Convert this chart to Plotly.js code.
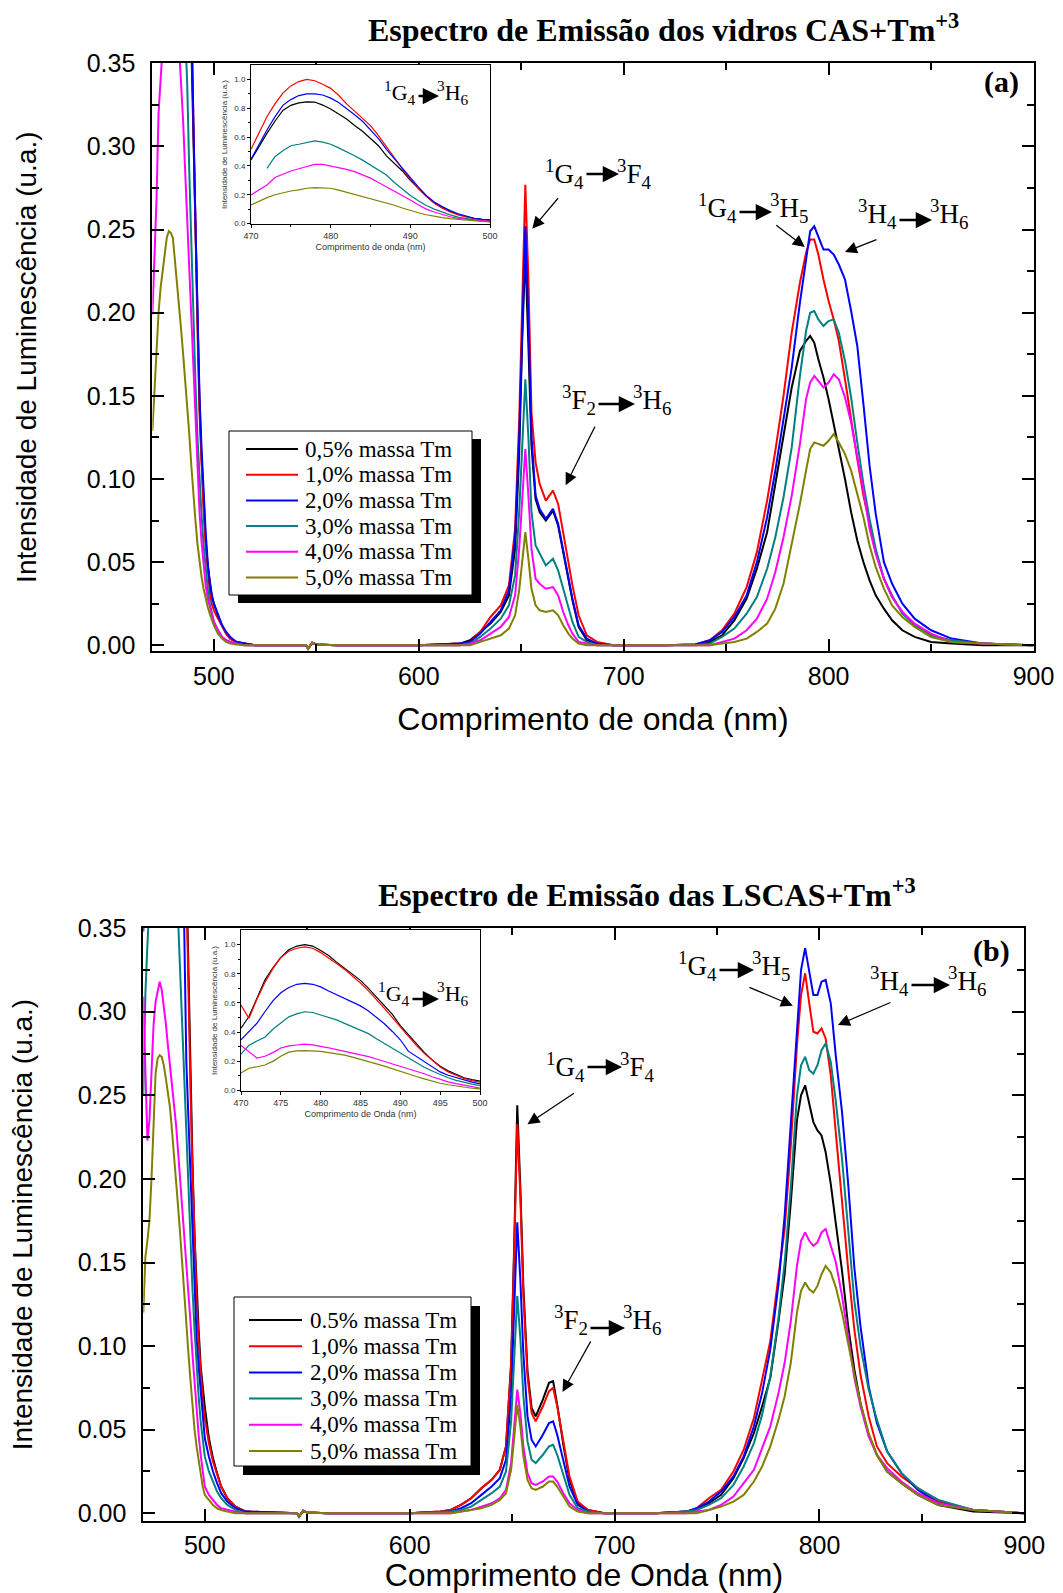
<!DOCTYPE html>
<html>
<head>
<meta charset="utf-8">
<script src="https://cdn.plot.ly/plotly-3.0.1.min.js"></script>
<style>
  html, body { margin: 0; padding: 0; background: #ffffff; }
  #chart { width: 1063px; height: 1593px; }
</style>
</head>
<body>
<div id="chart"></div>
<script>
// ---------- wavelength grids (nm) ----------
const insetWave = [470,471,472,473,474,475,476,477,478,479,480,481,482,483,484,485,486,487,488,489,490,491,492,493,494,495,496,497,498,499,500];

const tailWaveA = [502,504,506,508,511,515,520,
  540,545,546,548,550,560,600,615,
  620,625,630,635,640,644,647,649,650.5,652,653.5,655,657,659,662,665.5,668,670.5,673,675,678,682,687,695,
  720,735,
  742,748,754,760,765,770,774,778,782,786,789,791,793,795,797.5,800,802.5,805,808,811,814,817,820,823,827,831,836,842,850,860,875,900];

const tailWaveB = [502,504,506,508,511,515,520,
  540,545,546,548,550,560,600,615,
  620,625,630,635,640,644,647,649.5,651,652.5,654,655.5,657.5,659.5,661.5,665,668,670,672,675,678,682,687,695,
  720,735,
  740,746,752,758,763,768,772,776,780,783,786,789,791,793,795,797,799,801,803,805.5,808,811,814,817,820,824,828,833,840,848,858,875,900];

// ---------- series names and colours ----------
const namesA = ['0,5% massa Tm','1,0% massa Tm','2,0% massa Tm','3,0% massa Tm','4,0% massa Tm','5,0% massa Tm'];
const namesB = ['0.5% massa Tm','1,0% massa Tm','2,0% massa Tm','3,0% massa Tm','4,0% massa Tm','5,0% massa Tm'];
const colors = ['#000000','#ff0000','#0000ff','#008080','#ff00ff','#808000'];

// ---------- tick values ----------
const mainXTicks = [500,600,700,800,900];
const mainXMinor = [550,650,750,850];
const mainYTicks = [0,0.05,0.10,0.15,0.20,0.25,0.30,0.35];
const mainYLabels = ['0.00','0.05','0.10','0.15','0.20','0.25','0.30','0.35'];
const mainYMinor = [0.025,0.075,0.125,0.175,0.225,0.275,0.325];
const insetXTicksA = [470,480,490,500];
const insetXMinorA = [475,485,495];
const insetXTicksB = [470,475,480,485,490,495,500];
const insetYTicks = [0,0.2,0.4,0.6,0.8,1.0];
const insetYLabels = ['0.0','0.2','0.4','0.6','0.8','1.0'];
const insetYMinor = [0.1,0.3,0.5,0.7,0.9];

// ---------- (a) CAS glasses: 470-500 nm (shown in the inset) ----------
const casBlue05 = [0.441,0.535,0.626,0.71,0.785,0.82,0.837,0.844,0.843,0.822,0.795,0.76,0.725,0.68,0.64,0.59,0.54,0.47,0.415,0.365,0.3,0.245,0.19,0.145,0.112,0.085,0.063,0.048,0.037,0.03,0.025];
const casBlue10 = [0.515,0.63,0.741,0.83,0.905,0.955,0.985,1.0,0.991,0.967,0.938,0.89,0.83,0.78,0.73,0.68,0.61,0.533,0.455,0.38,0.31,0.245,0.19,0.14,0.107,0.08,0.06,0.044,0.032,0.025,0.021];
const casBlue20 = [0.446,0.55,0.649,0.74,0.82,0.86,0.888,0.9,0.9,0.892,0.87,0.84,0.8,0.755,0.71,0.65,0.59,0.515,0.45,0.38,0.315,0.255,0.195,0.15,0.118,0.09,0.068,0.05,0.037,0.03,0.025];
const casBlue30 = [null,null,0.383,0.464,0.505,0.54,0.55,0.561,0.573,0.565,0.55,0.525,0.5,0.47,0.44,0.405,0.37,0.337,0.285,0.238,0.195,0.158,0.125,0.1,0.078,0.06,0.045,0.034,0.025,0.019,0.014];
const casBlue40 = [0.199,0.235,0.268,0.32,0.345,0.365,0.38,0.395,0.411,0.41,0.4,0.39,0.376,0.36,0.34,0.315,0.285,0.256,0.225,0.195,0.164,0.13,0.1,0.08,0.062,0.047,0.036,0.028,0.023,0.018,0.014];
const casBlue50 = [0.129,0.155,0.18,0.2,0.215,0.226,0.234,0.245,0.249,0.248,0.245,0.232,0.217,0.204,0.19,0.175,0.16,0.143,0.127,0.108,0.09,0.075,0.061,0.05,0.041,0.034,0.028,0.023,0.019,0.015,0.012];

// ---------- (a) CAS glasses: 502-900 nm ----------
const casRest05 = [0.018,0.012,0.007,0.004,0.002,0.001,0,
  0,0,-0.002,0.0015,0.0005,0,0,0.0005,
  0.001,0.003,0.008,0.013,0.02,0.03,0.058,0.115,0.185,0.237,0.18,0.12,0.088,0.08,0.075,0.081,0.072,0.056,0.039,0.027,0.011,0.003,0.001,0,
  0,0.0005,
  0.002,0.006,0.015,0.028,0.046,0.068,0.097,0.125,0.155,0.177,0.183,0.186,0.182,0.172,0.161,0.148,0.134,0.118,0.1,0.08,0.063,0.05,0.039,0.03,0.022,0.015,0.009,0.005,0.002,0.001,0,0];
const casRest10 = [0.016,0.011,0.007,0.004,0.002,0.001,0,
  0,0,-0.002,0.0015,0.0005,0,0,0.0005,
  0.001,0.002,0.008,0.017,0.024,0.036,0.07,0.135,0.21,0.277,0.22,0.14,0.11,0.097,0.087,0.093,0.085,0.067,0.05,0.036,0.018,0.006,0.002,0,
  0,0.0005,
  0.003,0.009,0.019,0.035,0.056,0.087,0.117,0.15,0.188,0.218,0.236,0.244,0.244,0.235,0.22,0.207,0.196,0.183,0.16,0.135,0.112,0.09,0.072,0.056,0.04,0.029,0.02,0.012,0.006,0.002,0.001,0];
const casRest20 = [0.018,0.012,0.008,0.005,0.002,0.001,0,
  0,0,-0.002,0.0015,0.0005,0,0,0.0005,
  0.001,0.002,0.007,0.014,0.021,0.033,0.065,0.125,0.195,0.252,0.195,0.125,0.09,0.082,0.076,0.082,0.073,0.057,0.04,0.028,0.012,0.004,0.001,0,
  0,0.0005,
  0.003,0.008,0.017,0.03,0.05,0.077,0.105,0.135,0.167,0.206,0.233,0.249,0.252,0.246,0.238,0.238,0.235,0.229,0.22,0.201,0.18,0.145,0.108,0.079,0.05,0.037,0.025,0.016,0.009,0.004,0.001,0];
const casRest30 = [0.009,0.005,0.003,0.002,0.001,0,0,
  0,0,-0.002,0.0015,0.0005,0,0,0,
  0,0.001,0.005,0.01,0.016,0.024,0.042,0.08,0.125,0.16,0.125,0.08,0.06,0.055,0.048,0.052,0.045,0.034,0.022,0.014,0.005,0.002,0,0,
  0,0,
  0.001,0.005,0.01,0.019,0.029,0.046,0.065,0.089,0.119,0.162,0.189,0.2,0.201,0.196,0.192,0.195,0.196,0.188,0.171,0.149,0.122,0.097,0.076,0.058,0.04,0.03,0.019,0.012,0.006,0.003,0.001,0];
const casRest40 = [0.009,0.005,0.003,0.002,0.001,0,0,
  0,0,-0.002,0.0015,0.0005,0,0,0,
  0,0.001,0.003,0.007,0.011,0.017,0.03,0.058,0.09,0.118,0.09,0.058,0.04,0.037,0.034,0.035,0.03,0.02,0.012,0.007,0.002,0.001,0,0,
  0,0,
  0,0.002,0.004,0.009,0.016,0.028,0.044,0.065,0.09,0.121,0.148,0.158,0.162,0.159,0.155,0.158,0.163,0.16,0.149,0.134,0.114,0.093,0.07,0.055,0.04,0.029,0.02,0.013,0.007,0.002,0.001,0];
const casRest50 = [0.007,0.004,0.002,0.001,0.0005,0,0,
  0,0,-0.002,0.0015,0.0005,0,0,0,
  0,0,0.002,0.004,0.006,0.01,0.018,0.033,0.052,0.068,0.052,0.034,0.024,0.021,0.02,0.021,0.018,0.012,0.007,0.004,0.001,0,0,0,
  0,0,
  0,0.001,0.002,0.004,0.008,0.013,0.022,0.037,0.06,0.085,0.105,0.118,0.122,0.121,0.12,0.123,0.127,0.122,0.115,0.105,0.091,0.077,0.06,0.047,0.034,0.024,0.017,0.011,0.005,0.002,0.001,0];

// ---------- (b) LSCAS glasses: 470-500 nm (shown in the inset) ----------
const lsBlue05 = [0.427,0.507,0.632,0.757,0.84,0.912,0.965,0.99,1.0,0.99,0.96,0.925,0.88,0.84,0.8,0.755,0.7,0.643,0.585,0.522,0.445,0.385,0.32,0.262,0.21,0.166,0.135,0.11,0.088,0.075,0.064];
const lsBlue10 = [0.586,0.495,0.625,0.74,0.835,0.912,0.955,0.975,0.984,0.975,0.945,0.91,0.87,0.83,0.785,0.737,0.683,0.625,0.563,0.5,0.435,0.372,0.31,0.255,0.205,0.161,0.128,0.103,0.083,0.068,0.057];
const lsBlue20 = [0.348,0.405,0.461,0.54,0.615,0.67,0.706,0.728,0.734,0.728,0.71,0.682,0.657,0.635,0.61,0.58,0.545,0.5,0.458,0.405,0.348,0.27,0.235,0.2,0.165,0.128,0.105,0.088,0.072,0.058,0.045];
const lsBlue30 = [0.25,0.31,0.34,0.365,0.42,0.46,0.505,0.525,0.54,0.535,0.518,0.5,0.484,0.46,0.435,0.41,0.39,0.355,0.323,0.29,0.257,0.222,0.189,0.16,0.134,0.11,0.088,0.07,0.055,0.044,0.034];
const lsBlue40 = [0.309,0.265,0.223,0.235,0.26,0.292,0.306,0.312,0.318,0.313,0.304,0.293,0.28,0.268,0.257,0.246,0.232,0.216,0.2,0.182,0.166,0.15,0.132,0.115,0.095,0.077,0.06,0.047,0.035,0.025,0.016];
const lsBlue50 = [0.12,0.153,0.163,0.175,0.2,0.235,0.263,0.272,0.274,0.273,0.268,0.26,0.252,0.243,0.229,0.215,0.2,0.183,0.167,0.148,0.13,0.113,0.096,0.08,0.063,0.05,0.04,0.031,0.023,0.016,0.011];

// ---------- (b) LSCAS glasses: 502-900 nm ----------
const lsRest05 = [0.045,0.033,0.024,0.016,0.009,0.004,0.001,
  0,0,-0.002,0.0015,0.0005,0,0,0.001,
  0.002,0.005,0.009,0.015,0.02,0.026,0.04,0.09,0.16,0.244,0.195,0.135,0.085,0.063,0.058,0.068,0.078,0.079,0.065,0.041,0.02,0.006,0.002,0,
  0,0.001,
  0.002,0.006,0.011,0.021,0.033,0.048,0.064,0.081,0.115,0.143,0.186,0.235,0.25,0.256,0.245,0.234,0.229,0.226,0.216,0.197,0.173,0.145,0.112,0.086,0.066,0.047,0.035,0.025,0.018,0.011,0.005,0.001,0];
const lsRest10 = [0.042,0.031,0.023,0.016,0.009,0.004,0.001,
  0,0,-0.002,0.0015,0.0005,0,0,0.001,
  0.002,0.005,0.009,0.015,0.02,0.026,0.04,0.088,0.155,0.233,0.19,0.13,0.082,0.06,0.055,0.064,0.073,0.075,0.064,0.042,0.022,0.007,0.002,0,
  0,0.001,
  0.003,0.009,0.014,0.025,0.038,0.057,0.079,0.103,0.142,0.17,0.22,0.28,0.31,0.323,0.305,0.288,0.287,0.29,0.284,0.262,0.227,0.185,0.146,0.11,0.083,0.058,0.04,0.03,0.022,0.015,0.007,0.002,0];
const lsRest20 = [0.034,0.025,0.018,0.012,0.007,0.003,0.001,
  0,0,-0.002,0.0015,0.0005,0,0,0.001,
  0.001,0.003,0.006,0.011,0.016,0.021,0.032,0.07,0.12,0.174,0.14,0.095,0.058,0.044,0.04,0.047,0.054,0.055,0.047,0.031,0.016,0.005,0.001,0,
  0,0.001,
  0.003,0.007,0.013,0.022,0.034,0.052,0.072,0.098,0.137,0.178,0.231,0.288,0.325,0.338,0.325,0.31,0.31,0.318,0.319,0.305,0.273,0.24,0.197,0.147,0.112,0.076,0.054,0.037,0.024,0.014,0.006,0.002,0];
const lsRest30 = [0.025,0.019,0.013,0.009,0.005,0.002,0,
  0,0,-0.002,0.0015,0.0005,0,0,0.001,
  0.001,0.002,0.004,0.008,0.012,0.016,0.025,0.055,0.092,0.13,0.105,0.07,0.043,0.032,0.03,0.035,0.04,0.041,0.035,0.023,0.011,0.003,0.001,0,
  0,0.001,
  0.002,0.005,0.009,0.017,0.028,0.042,0.059,0.082,0.117,0.15,0.195,0.25,0.268,0.273,0.265,0.263,0.268,0.277,0.281,0.27,0.246,0.212,0.168,0.127,0.1,0.074,0.056,0.037,0.024,0.015,0.008,0.002,0];
const lsRest40 = [0.011,0.008,0.005,0.003,0.002,0.001,0,
  0,0,-0.002,0.0015,0.0005,0,0,0,
  0,0.001,0.002,0.004,0.006,0.009,0.014,0.03,0.052,0.074,0.06,0.04,0.024,0.018,0.017,0.019,0.022,0.022,0.019,0.012,0.006,0.002,0,0,
  0,0,
  0.001,0.002,0.005,0.01,0.018,0.026,0.039,0.052,0.072,0.09,0.115,0.148,0.163,0.168,0.163,0.16,0.162,0.168,0.17,0.16,0.15,0.13,0.104,0.081,0.064,0.046,0.035,0.027,0.019,0.012,0.006,0.002,0];
const lsRest50 = [0.008,0.005,0.003,0.002,0.001,0,0,
  0,0,-0.002,0.0015,0.0005,0,0,0,
  0,0.001,0.002,0.003,0.005,0.008,0.012,0.026,0.045,0.065,0.052,0.034,0.02,0.015,0.014,0.016,0.019,0.019,0.016,0.01,0.004,0.001,0,0,
  0,0,
  0,0.002,0.004,0.007,0.011,0.019,0.028,0.04,0.056,0.07,0.09,0.12,0.133,0.138,0.134,0.132,0.136,0.143,0.148,0.144,0.135,0.12,0.101,0.083,0.066,0.048,0.035,0.025,0.018,0.011,0.005,0.002,0];

const casBlue = [casBlue05, casBlue10, casBlue20, casBlue30, casBlue40, casBlue50];
const casRest = [casRest05, casRest10, casRest20, casRest30, casRest40, casRest50];
const lsBlue  = [lsBlue05, lsBlue10, lsBlue20, lsBlue30, lsBlue40, lsBlue50];
const lsRest  = [lsRest05, lsRest10, lsRest20, lsRest30, lsRest40, lsRest50];

// ---------- page geometry helpers (pixels -> paper) ----------
const W = 1063, H = 1593;
const px = x => x / W;
const py = y => 1 - y / H;

const SERIF = '"Liberation Serif", "Times New Roman", serif';
const SANS = '"Liberation Sans", Arial, sans-serif';
const yTitle = 'Intensidade de Luminescência (u.a.)';

// ---------- traces ----------
const traces = [];
for (let i = 0; i < 6; i++) {
  traces.push({
    type: 'scatter', mode: 'lines', name: namesA[i], showlegend: false,
    x: insetWave.concat(tailWaveA), y: casBlue[i].concat(casRest[i]),
    xaxis: 'x', yaxis: 'y', line: {color: colors[i], width: 2}
  });
}
for (let i = 0; i < 6; i++) {
  traces.push({
    type: 'scatter', mode: 'lines', name: namesB[i], showlegend: false,
    x: insetWave.concat(tailWaveB), y: lsBlue[i].concat(lsRest[i]),
    xaxis: 'x2', yaxis: 'y2', line: {color: colors[i], width: 2}
  });
}
for (let i = 0; i < 6; i++) {
  traces.push({
    type: 'scatter', mode: 'lines', name: namesA[i], showlegend: false,
    x: insetWave, y: casBlue[i], xaxis: 'x3', yaxis: 'y3',
    line: {color: colors[i], width: 1.2}
  });
}
for (let i = 0; i < 6; i++) {
  traces.push({
    type: 'scatter', mode: 'lines', name: namesB[i], showlegend: false,
    x: insetWave, y: lsBlue[i], xaxis: 'x4', yaxis: 'y4',
    line: {color: colors[i], width: 1.2}
  });
}

// ---------- axes ----------
function mainX(domain, anchor, title, labelOff, standoff) {
  return {
    domain, anchor, range: [470, 900],
    tickmode: 'array', tickvals: mainXTicks, ticktext: mainXTicks.map(String),
    ticks: 'inside', ticklen: 12, tickwidth: 2, tickcolor: '#000',
    minor: {tickmode: 'array', tickvals: mainXMinor, ticks: 'inside', ticklen: 7, tickwidth: 2, tickcolor: '#000'},
    showline: true, linewidth: 2, linecolor: '#000', mirror: 'ticks',
    showgrid: false, zeroline: false, ticklabelstandoff: labelOff,
    tickfont: {family: SANS, size: 25, color: '#000'},
    title: {text: title, font: {family: SANS, size: 32, color: '#000'}, standoff}
  };
}
function mainY(domain, anchor, range, standoff) {
  return {
    domain, anchor, range,
    tickmode: 'array', tickvals: mainYTicks, ticktext: mainYLabels,
    ticks: 'inside', ticklen: 12, tickwidth: 2, tickcolor: '#000',
    minor: {tickmode: 'array', tickvals: mainYMinor, ticks: 'inside', ticklen: 7, tickwidth: 2, tickcolor: '#000'},
    showline: true, linewidth: 2, linecolor: '#000', mirror: 'ticks',
    showgrid: false, zeroline: false, ticklabelstandoff: 10,
    tickfont: {family: SANS, size: 25, color: '#000'},
    title: {text: yTitle, font: {family: SANS, size: 28, color: '#000'}, standoff}
  };
}
function insetX(domain, anchor, tickvals, minorvals, title) {
  return {
    domain, anchor, range: [470, 500],
    tickmode: 'array', tickvals, ticktext: tickvals.map(String),
    ticks: 'outside', ticklen: 3, tickwidth: 1, tickcolor: '#000',
    minor: {tickmode: 'array', tickvals: minorvals, ticks: 'outside', ticklen: 2, tickwidth: 1, tickcolor: '#000'},
    showline: true, linewidth: 1, linecolor: '#000', mirror: true,
    showgrid: false, zeroline: false,
    tickfont: {family: SANS, size: 9, color: '#333'},
    title: {text: title, font: {family: SANS, size: 9, color: '#333'}, standoff: 3}
  };
}
function insetY(domain, anchor) {
  return {
    domain, anchor, range: [-0.003, 1.1],
    tickmode: 'array', tickvals: insetYTicks, ticktext: insetYLabels,
    ticks: 'outside', ticklen: 3, tickwidth: 1, tickcolor: '#000',
    minor: {tickmode: 'array', tickvals: insetYMinor, ticks: 'outside', ticklen: 2, tickwidth: 1, tickcolor: '#000'},
    showline: true, linewidth: 1, linecolor: '#000', mirror: true,
    showgrid: false, zeroline: false,
    tickfont: {family: SANS, size: 8, color: '#333'},
    title: {text: yTitle, font: {family: SANS, size: 8, color: '#333'}, standoff: 5}
  };
}

// ---------- annotations ----------
const annotations = [];
const shapes = [];

function textAt(text, x, y, size, opts) {
  annotations.push(Object.assign({
    xref: 'paper', yref: 'paper', x: px(x), y: py(y), text, showarrow: false,
    xanchor: 'center', yanchor: 'middle',
    font: {family: SERIF, size, color: '#000'}
  }, opts || {}));
}

// panel titles and tags
textAt('<b>Espectro de Emissão dos vidros CAS+Tm<sup>+3</sup></b>', 663, 28, 32);
textAt('<b>Espectro de Emissão das LSCAS+Tm<sup>+3</sup></b>', 647, 893, 32);
textAt('<b>(a)</b>', 1001, 82, 30);
textAt('<b>(b)</b>', 991, 951, 30);

// transition labels: left level, horizontal arrow, right level
const transitions = [
  {l: '<sup>1</sup>G<sub>4</sub>', r: '<sup>3</sup>F<sub>4</sub>', xl: 585, xh: 619, ya: 174, yt: 174, size: 27},
  {l: '<sup>3</sup>F<sub>2</sub>', r: '<sup>3</sup>H<sub>6</sub>', xl: 597, xh: 635, ya: 404, yt: 400, size: 27},
  {l: '<sup>1</sup>G<sub>4</sub>', r: '<sup>3</sup>H<sub>5</sub>', xl: 738, xh: 772, ya: 212, yt: 208, size: 27},
  {l: '<sup>3</sup>H<sub>4</sub>', r: '<sup>3</sup>H<sub>6</sub>', xl: 898, xh: 932, ya: 220, yt: 214, size: 27},
  {l: '<sup>1</sup>G<sub>4</sub>', r: '<sup>3</sup>F<sub>4</sub>', xl: 586, xh: 622, ya: 1067, yt: 1067, size: 27},
  {l: '<sup>3</sup>F<sub>2</sub>', r: '<sup>3</sup>H<sub>6</sub>', xl: 589, xh: 625, ya: 1328, yt: 1320, size: 27},
  {l: '<sup>1</sup>G<sub>4</sub>', r: '<sup>3</sup>H<sub>5</sub>', xl: 718, xh: 754, ya: 970, yt: 966, size: 27},
  {l: '<sup>3</sup>H<sub>4</sub>', r: '<sup>3</sup>H<sub>6</sub>', xl: 910, xh: 950, ya: 985, yt: 981, size: 27},
  {l: '<sup>1</sup>G<sub>4</sub>', r: '<sup>3</sup>H<sub>6</sub>', xl: 417, xh: 439, ya: 96, yt: 93, size: 22},
  {l: '<sup>1</sup>G<sub>4</sub>', r: '<sup>3</sup>H<sub>6</sub>', xl: 411, xh: 439, ya: 999, yt: 994, size: 22}
];
transitions.forEach(t => {
  textAt(t.l, t.xl, t.yt, t.size, {xanchor: 'right', borderpad: 0});
  textAt(t.r, t.xh - 3, t.yt, t.size, {xanchor: 'left', borderpad: 0});
  annotations.push({
    xref: 'paper', yref: 'paper', x: px(t.xh), y: py(t.ya), ax: t.xl - t.xh, ay: 0,
    axref: 'pixel', ayref: 'pixel', text: '', showarrow: true,
    arrowhead: 2, arrowsize: 1.3, arrowwidth: 2.5, arrowcolor: '#000', standoff: 0, startstandoff: 0
  });
});

// pointer arrows to the emission bands
const pointers = [
  {xref: 'x', yref: 'y', x: 655.4, y: 0.2505, ax: 27, ay: -32},
  {xref: 'x', yref: 'y', x: 671.7, y: 0.0963, ax: 30, ay: -60},
  {xref: 'x', yref: 'y', x: 788.4, y: 0.2395, ax: -30, ay: -23},
  {xref: 'x', yref: 'y', x: 808.0, y: 0.2365, ax: 33, ay: -13},
  {xref: 'x2', yref: 'y2', x: 657.5, y: 0.2327, ax: 48, ay: -32},
  {xref: 'x2', yref: 'y2', x: 674.6, y: 0.0726, ax: 29, ay: -52},
  {xref: 'x2', yref: 'y2', x: 787.0, y: 0.3036, ax: -45, ay: -19},
  {xref: 'x2', yref: 'y2', x: 809.0, y: 0.2921, ax: 54, ay: -23}
];
pointers.forEach(p => annotations.push(Object.assign({
  text: '', showarrow: true, axref: 'pixel', ayref: 'pixel',
  arrowhead: 2, arrowsize: 2, arrowwidth: 1.2, arrowcolor: '#000', standoff: 0
}, p)));

// legend boxes (drop shadow, frame, line keys, names)
function legendBox(box, shadowOff, lineX0, lineX1, textX, rowY0, rowGap, names) {
  shapes.push({type: 'rect', xref: 'paper', yref: 'paper', layer: 'above',
    x0: px(box[0] + shadowOff[0]), x1: px(box[2] + shadowOff[0]),
    y0: py(box[3] + shadowOff[1]), y1: py(box[1] + shadowOff[1]),
    fillcolor: '#000', line: {width: 0}});
  shapes.push({type: 'rect', xref: 'paper', yref: 'paper', layer: 'above',
    x0: px(box[0]), x1: px(box[2]), y0: py(box[3]), y1: py(box[1]),
    fillcolor: '#fff', line: {color: '#000', width: 1}});
  names.forEach((n, i) => {
    const y = rowY0 + i * rowGap;
    shapes.push({type: 'line', xref: 'paper', yref: 'paper', layer: 'above',
      x0: px(lineX0), x1: px(lineX1), y0: py(y), y1: py(y),
      line: {color: colors[i], width: 2}});
    textAt(n, textX, y, 23, {xanchor: 'left'});
  });
}
legendBox([229, 431, 472, 595], [9, 8], 246, 298, 303, 449, 25.7, namesA);
legendBox([234, 1297, 471, 1466], [9, 9], 249, 302, 308, 1320, 26.2, namesB);

// ---------- layout ----------
const layout = {
  width: W, height: H,
  margin: {l: 0, r: 0, t: 0, b: 0},
  paper_bgcolor: '#ffffff', plot_bgcolor: '#ffffff',
  showlegend: false, hovermode: false,
  font: {family: SANS, color: '#000'},
  xaxis: mainX([px(152.4), px(1033.5)], 'y', 'Comprimento de onda (nm)', 2, 18),
  yaxis: mainY([py(651.4), py(63)], 'x', [-0.0037, 0.3502], 42),
  xaxis2: mainX([px(143.3), px(1024.4)], 'y2', 'Comprimento de Onda (nm)', 1, 5),
  yaxis2: mainY([py(1521.3), py(927.8)], 'x2', [-0.0048, 0.3502], 37),
  xaxis3: insetX([px(251), px(490)], 'y3', insetXTicksA, insetXMinorA, 'Comprimento de onda (nm)'),
  yaxis3: insetY([py(224), py(65)], 'x3'),
  xaxis4: insetX([px(241), px(480)], 'y4', insetXTicksB, [], 'Comprimento de Onda (nm)'),
  yaxis4: insetY([py(1091), py(930)], 'x4'),
  annotations, shapes
};

Plotly.newPlot('chart', traces, layout, {displayModeBar: false, staticPlot: true});
</script>
</body>
</html>
